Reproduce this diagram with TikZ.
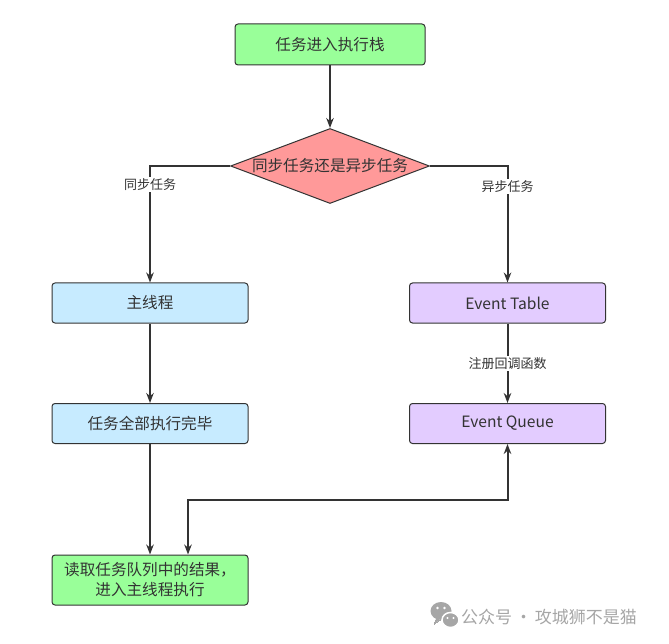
\documentclass[tikz,border=0pt]{standalone}
\usepackage{fontspec}
\setmainfont{Noto Sans CJK SC}
\usetikzlibrary{shapes.geometric,arrows.meta}
\definecolor{startgreen}{HTML}{99FF99}
\definecolor{askred}{HTML}{FF9999}
\definecolor{syncblue}{HTML}{C7EBFF}
\definecolor{asyncpurple}{HTML}{E3CCFF}
\definecolor{darkline}{HTML}{333333}
\definecolor{markgray}{HTML}{A6A6A6}

\begin{document}
\begin{tikzpicture}[x=1pt, y=1pt, >={Stealth[length=10pt,width=7.5pt]},
  stepbox/.style={draw=darkline, line width=1pt, rounded corners=3pt,
    minimum width=196, minimum height=40, inner sep=0pt, text=darkline,
    font=\fontsize{15.6}{20}\selectfont},
  decision/.style={diamond, draw=darkline, line width=1pt, fill=askred,
    aspect=2.65, minimum width=199, minimum height=75, inner sep=0pt,
    text=darkline, font=\fontsize{15.6}{20}\selectfont},
  flow/.style={draw=darkline, line width=2pt},
  edgelabel/.style={fill=white, inner sep=1.5pt, text=darkline,
    font=\fontsize{13}{15}\selectfont}]
\useasboundingbox (0,0) rectangle (669,-644);
% boxes
\node [stepbox, fill=startgreen, minimum width=190, minimum height=41] (enter) at (330,-44.5) {任务进入执行栈};
\node [decision] (kind) at (330,-166) {同步任务还是异步任务};
\node [stepbox, fill=syncblue] (main) at (150,-303) {主线程};
\node [stepbox, fill=syncblue] (done) at (150,-423.5) {任务全部执行完毕};
\node [stepbox, fill=asyncpurple] (table) at (507.5,-303) {Event Table};
\node [stepbox, fill=asyncpurple] (queue) at (507.5,-423.5) {Event Queue};
\node [stepbox, fill=startgreen, minimum height=50, align=center] (read) at (150,-580) {读取任务队列中的结果，\\进入主线程执行};
% connectors
\draw [flow, ->] (enter) -- (kind);
\draw [flow, ->] (kind.west) -| node [edgelabel, pos=0.58] {同步任务} (main);
\draw [flow, ->] (kind.east) -| node [edgelabel, pos=0.59] {异步任务} (table);
\draw [flow, ->] (main) -- (done);
\draw [flow, ->] (table) -- node [edgelabel] {注册回调函数} (queue);
\draw [flow, ->] (done) -- (read);
\draw [flow, <->] ([xshift=38]read.north) -- ++(0,55) -| (queue.south);
% watermark
\fill [markgray] (441,-611) ellipse (10.5 and 9);
\draw [markgray, fill=markgray, line width=0pt] (436,-619) -- (434,-624) -- (440,-620) -- cycle;
\fill [white] (437.5,-608) circle (1.3) (444.5,-608) circle (1.3);
\filldraw [fill=markgray, draw=white, line width=1.5pt] (450.5,-620) ellipse (8.5 and 7.5);
\fill [white] (447.5,-618) circle (1.1) (453.5,-618) circle (1.1);
\node [anchor=west, text=markgray, font=\fontsize{17}{20}\selectfont, inner sep=0pt] (mark) at (461,-617) {公众号\,·\,攻城狮不是猫};
\end{tikzpicture}
\end{document}
